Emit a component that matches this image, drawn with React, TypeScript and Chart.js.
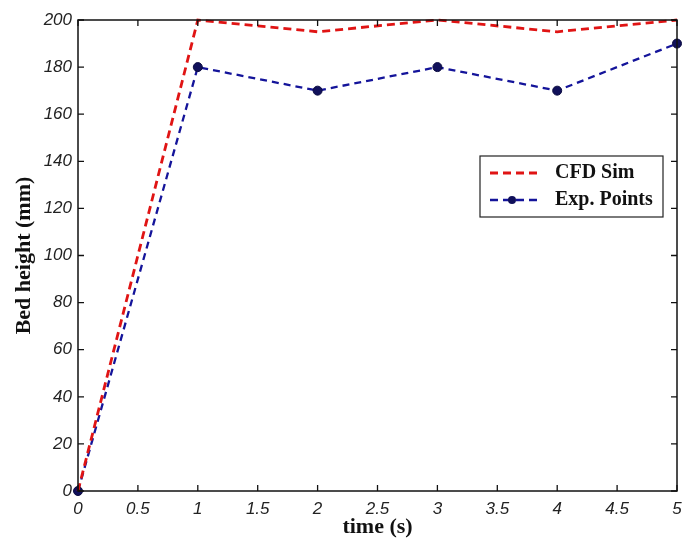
import React, { useEffect, useRef } from "react";
import { Chart, registerables } from "chart.js";

Chart.register(...registerables);

const timeValues = [0, 1, 2, 3, 4, 5];
const cfdSim = [0, 200, 195, 200, 195, 200];
const expPoints = [0, 180, 170, 180, 170, 190];
const seriesLabels = ["CFD Sim", "Exp. Points"];
const xTicks = [0, 0.5, 1, 1.5, 2, 2.5, 3, 3.5, 4, 4.5, 5];
const yTicks = [0, 20, 40, 60, 80, 100, 120, 140, 160, 180, 200];

const RED = "#e01414";
const BLUE = "#14149a";
const MARK = "#10105a";

const boxPlugin = {
  id: "matlabBox",
  afterDatasetsDraw(chart: any) {
    const { ctx, chartArea, scales } = chart;
    const { left, right, top, bottom } = chartArea;
    ctx.save();
    ctx.strokeStyle = "#111";
    ctx.lineWidth = 1.5;
    ctx.strokeRect(left, top, right - left, bottom - top);
    ctx.lineWidth = 1.3;
    const tl = 6;
    ctx.beginPath();
    xTicks.forEach((v) => {
      const px = scales.x.getPixelForValue(v);
      ctx.moveTo(px, bottom);
      ctx.lineTo(px, bottom - tl);
      ctx.moveTo(px, top);
      ctx.lineTo(px, top + tl);
    });
    yTicks.forEach((v) => {
      const py = scales.y.getPixelForValue(v);
      ctx.moveTo(left, py);
      ctx.lineTo(left + tl, py);
      ctx.moveTo(right, py);
      ctx.lineTo(right - tl, py);
    });
    ctx.stroke();

    // legend
    const lx = 480, ly = 156, lw = 183, lh = 61;
    ctx.fillStyle = "#fff";
    ctx.fillRect(lx, ly, lw, lh);
    ctx.strokeStyle = "#222";
    ctx.lineWidth = 1.2;
    ctx.strokeRect(lx, ly, lw, lh);
    const rows = [ly + 17, ly + 44];
    ctx.lineWidth = 2.8;
    ctx.setLineDash([8, 5]);
    ctx.strokeStyle = RED;
    ctx.beginPath();
    ctx.moveTo(490, rows[0]);
    ctx.lineTo(541, rows[0]);
    ctx.stroke();
    ctx.lineWidth = 2.4;
    ctx.strokeStyle = BLUE;
    ctx.beginPath();
    ctx.moveTo(490, rows[1]);
    ctx.lineTo(541, rows[1]);
    ctx.stroke();
    ctx.setLineDash([]);
    ctx.fillStyle = MARK;
    ctx.beginPath();
    ctx.arc(512, rows[1], 4, 0, Math.PI * 2);
    ctx.fill();
    ctx.fillStyle = "#111";
    ctx.font = "bold 20px 'Liberation Serif'";
    ctx.textBaseline = "middle";
    ctx.textAlign = "left";
    ctx.fillText(seriesLabels[0], 555, rows[0]);
    ctx.fillText(seriesLabels[1], 555, rows[1]);
    ctx.restore();
  },
};

export default function App() {
  const ref = useRef<HTMLCanvasElement>(null);
  useEffect(() => {
    document.body.style.margin = "0";
    const chart = new Chart(ref.current as HTMLCanvasElement, {
      type: "line",
      data: {
        datasets: [
          {
            label: seriesLabels[0],
            data: timeValues.map((t, i) => ({ x: t, y: cfdSim[i] })),
            borderColor: RED,
            borderWidth: 2.8,
            borderDash: [8, 5],
            pointRadius: 0,
            fill: false,
            tension: 0,
          },
          {
            label: seriesLabels[1],
            data: timeValues.map((t, i) => ({ x: t, y: expPoints[i] })),
            borderColor: BLUE,
            borderWidth: 2.3,
            borderDash: [7, 5],
            pointRadius: 4.5,
            pointBackgroundColor: MARK,
            pointBorderColor: "#0a0a40",
            pointBorderWidth: 1,
            fill: false,
            tension: 0,
          },
        ],
      },
      options: {
        animation: false,
        responsive: false,
        clip: false as any,
        layout: { padding: { top: 20, right: 15, left: 0, bottom: 0 } },
        plugins: { legend: { display: false }, tooltip: { enabled: false } },
        scales: {
          x: {
            type: "linear",
            min: 0,
            max: 5,
            afterFit: (s: any) => {
              s.height = 48;
            },
            afterBuildTicks: (s: any) => {
              s.ticks = xTicks.map((v) => ({ value: v }));
            },
            grid: { display: false, drawTicks: false },
            border: { display: false },
            ticks: {
              padding: 8,
              color: "#222",
              font: { family: "'Liberation Sans'", size: 17, style: "italic" },
              maxRotation: 0,
              autoSkip: false,
              callback: (v: any) => String(v),
            },
            title: {
              display: true,
              text: "time (s)",
              color: "#111",
              font: { family: "'Liberation Serif'", size: 22, weight: "bold" },
              padding: { top: 0, bottom: -2 },
            },
          },
          y: {
            type: "linear",
            min: 0,
            max: 200,
            afterFit: (s: any) => {
              s.width = 78;
            },
            afterBuildTicks: (s: any) => {
              s.ticks = yTicks.map((v) => ({ value: v }));
            },
            grid: { display: false, drawTicks: false },
            border: { display: false },
            ticks: {
              padding: 6,
              color: "#222",
              font: { family: "'Liberation Sans'", size: 17, style: "italic" },
              autoSkip: false,
            },
            title: {
              display: true,
              text: "Bed height (mm)",
              color: "#111",
              font: { family: "'Liberation Serif'", size: 22, weight: "bold" },
              padding: { top: 11, bottom: 0 },
            },
          },
        },
      },
      plugins: [boxPlugin],
    });
    return () => chart.destroy();
  }, []);
  return (
    <div style={{ width: 692, height: 539, background: "#fff" }}>
      <canvas ref={ref} width={692} height={539} />
    </div>
  );
}
